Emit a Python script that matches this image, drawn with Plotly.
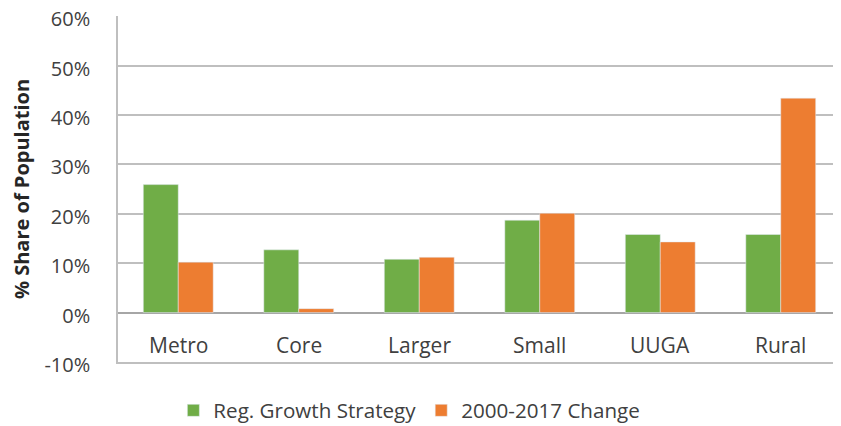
import plotly.graph_objects as go

# Data
categories = ['Metro', 'Core', 'Larger', 'Small', 'UUGA', 'Rural']
reg_growth = [25.9, 12.7, 10.8, 18.7, 15.8, 15.8]
change_2000_2017 = [10.2, 0.8, 11.2, 20.1, 14.3, 43.4]
y_ticks = [-10, 0, 10, 20, 30, 40, 50, 60]

GREEN = '#70AD47'
ORANGE = '#ED7D31'
TEXT = '#404040'
FONT = 'Open Sans'

fig = go.Figure()
fig.add_trace(go.Bar(x=categories, y=reg_growth, name='Reg. Growth Strategy',
                     marker=dict(color=GREEN)))
fig.add_trace(go.Bar(x=categories, y=change_2000_2017, name='2000-2017 Change',
                     marker=dict(color=ORANGE)))

# category labels sit just under the zero line, like in Excel
for cat in categories:
    fig.add_annotation(x=cat, y=-6.6, xref='x', yref='y', text=cat, showarrow=False,
                       font=dict(family=FONT, size=21, color=TEXT))

# page body has an 8px margin, so the figure is sized to fit the window
fig.update_layout(
    width=833, height=418,
    barmode='group', bargap=0.42, bargroupgap=0,
    paper_bgcolor='white', plot_bgcolor='white',
    margin=dict(l=110, r=0, t=8, b=64, autoexpand=False),
    font=dict(family=FONT, size=20, color=TEXT),
    showlegend=True,
    legend=dict(orientation='h', x=0.403, xanchor='center', y=-0.14, yanchor='middle',
                font=dict(size=20.6, color=TEXT), itemwidth=30,
                tracegroupgap=0),
)
fig.update_xaxes(showticklabels=False, showline=True, linecolor='#BFBFBF', linewidth=1.5,
                 showgrid=False, ticks='', automargin=False)
fig.update_yaxes(range=[-10, 60.02], tickvals=y_ticks, ticktext=[f'{v}%' for v in y_ticks],
                 showgrid=True, gridcolor='#BFBFBF', gridwidth=1.5,
                 zeroline=True, zerolinecolor='#A6A6A6', zerolinewidth=1.5,
                 showline=True, linecolor='#BFBFBF', linewidth=1.5,
                 ticklabelstandoff=22, ticklabelshift=3,
                 automargin=False, ticklabeloverflow='allow',
                 tickfont=dict(size=20, color=TEXT),
                 title=dict(text='<b>% Share of Population</b>', standoff=12,
                            font=dict(size=20, color='#262626')))

fig.write_html('out.html')
